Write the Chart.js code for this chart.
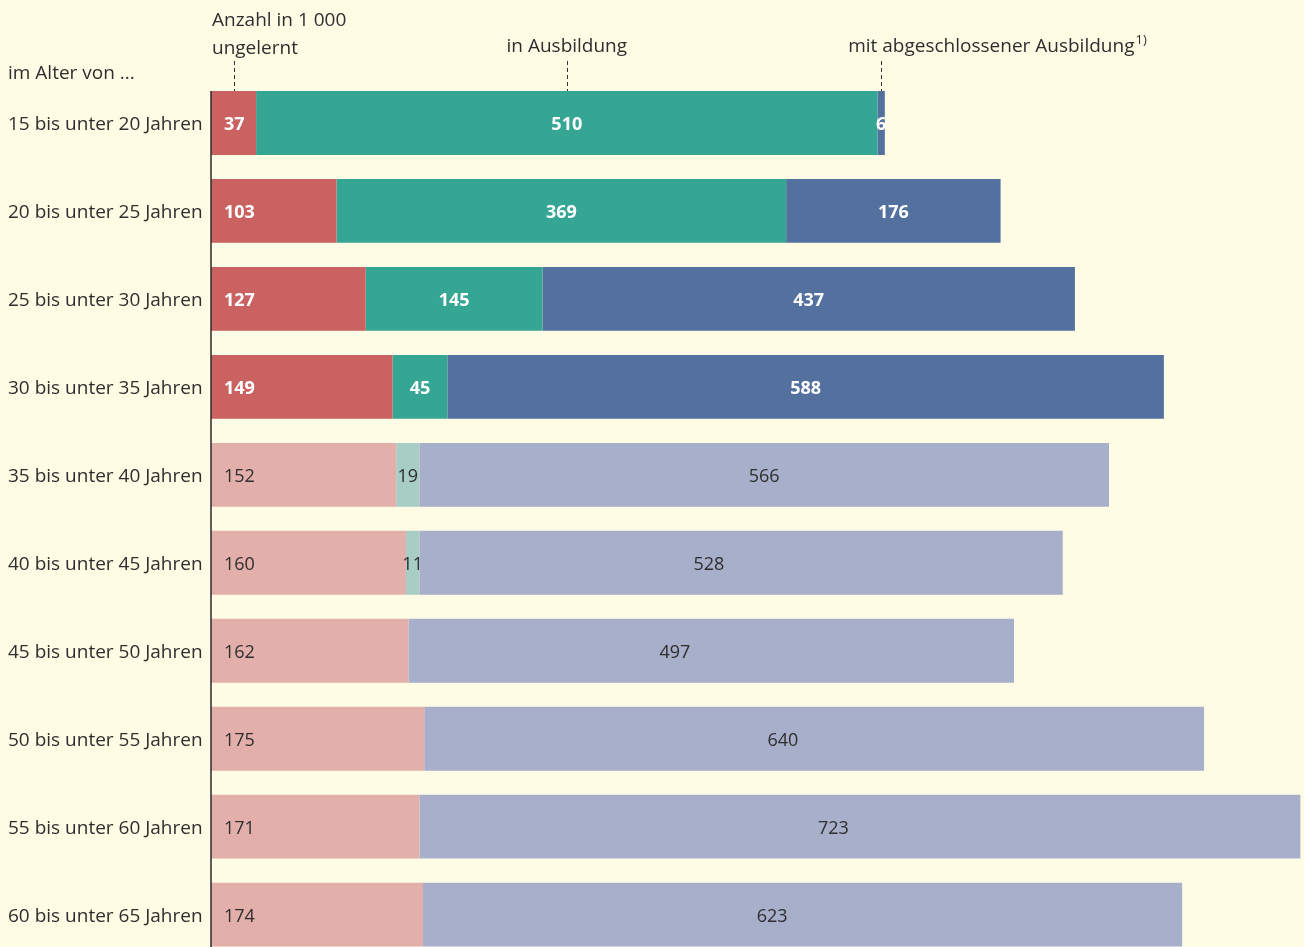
<!DOCTYPE html>
<html lang="de">
<head>
  <meta charset="UTF-8">
  <title>Erwerbstätige nach Ausbildung und Alter</title>
  <script src="https://cdn.jsdelivr.net/npm/chart.js@4.4.1/dist/chart.umd.min.js"></script>
  <style>
    html, body {
      margin: 0;
      padding: 0;
      overflow: hidden;
      background: #fffce6;
    }
    #wrap {
      width: 1304px;
      height: 970px;
    }
  </style>
</head>
<body>
  <div id="wrap">
    <canvas id="chart" width="1304" height="970"></canvas>
  </div>
  <script>
    // Daten (Anzahl in 1 000)
    const altersgruppen = [
      "15 bis unter 20 Jahren", "20 bis unter 25 Jahren", "25 bis unter 30 Jahren",
      "30 bis unter 35 Jahren", "35 bis unter 40 Jahren", "40 bis unter 45 Jahren",
      "45 bis unter 50 Jahren", "50 bis unter 55 Jahren", "55 bis unter 60 Jahren",
      "60 bis unter 65 Jahren"
    ];
    const ungelernt = [37, 103, 127, 149, 152, 160, 162, 175, 171, 174];
    const inAusbildung = [510, 369, 145, 45, 19, 11, null, null, null, null];
    const abgeschlossen = [6, 176, 437, 588, 566, 528, 497, 640, 723, 623];

    const FONT = "'Open Sans'";
    const TEXT = "#2e2e2e";
    const HERVOR = 4; // die ersten 4 Zeilen kräftig
    // Lage der Zahl im letzten Segment (Anteil der Segmentbreite), wie im Original gesetzt
    const lageLetzte = [0.5, 0.5, 0.5, 0.5, 0.5, 0.45, 0.44, 0.46, 0.47, 0.46];

    function farben(stark, hell) {
      return altersgruppen.map((_, i) => i < HERVOR ? stark : hell);
    }

    // Werte in die Balken schreiben, Achsenlinie und Kopfzeilen
    const beschriftung = {
      id: "beschriftung",
      afterDatasetsDraw(chart) {
        const ctx = chart.ctx;
        const area = chart.chartArea;
        ctx.save();
        ctx.textBaseline = "middle";
        chart.data.datasets.forEach((ds, d) => {
          const meta = chart.getDatasetMeta(d);
          meta.data.forEach((bar, i) => {
            const v = ds.data[i];
            if (v == null) return;
            const stark = i < HERVOR;
            ctx.font = (stark ? "bold " : "") + "18px " + FONT;
            ctx.fillStyle = stark ? "#ffffff" : TEXT;
            if (d === 0) {
              ctx.textAlign = "left";
              ctx.fillText(String(v), bar.base + 13, bar.y + 2);
            } else {
              ctx.textAlign = "center";
              const f = d === 2 ? lageLetzte[i] : 0.5;
              ctx.fillText(String(v), bar.base + (bar.x - bar.base) * f, bar.y + 2);
            }
          });
        });

        // Achsenlinie
        const erster = chart.getDatasetMeta(0).data[0];
        const oben = erster.y - erster.height / 2;
        ctx.strokeStyle = "#2a2a2a";
        ctx.lineWidth = 1.5;
        ctx.beginPath();
        ctx.moveTo(area.left, oben);
        ctx.lineTo(area.left, chart.height);
        ctx.stroke();

        // Kopfzeilen
        ctx.fillStyle = TEXT;
        ctx.font = "19px " + FONT;
        ctx.textAlign = "left";
        ctx.fillText("im Alter von ...", 8, 74);
        ctx.fillText("Anzahl in 1 000", area.left + 1, 21);
        ctx.fillText("ungelernt", area.left + 1, 49);

        const mitten = [0, 1, 2].map(d => {
          const b = chart.getDatasetMeta(d).data[0];
          return (b.base + b.x) / 2;
        });
        ctx.textAlign = "center";
        ctx.fillText("in Ausbildung", mitten[1], 47);
        ctx.textAlign = "left";
        const t = "mit abgeschlossener Ausbildung";
        const x3 = mitten[2] - 33;
        ctx.fillText(t, x3, 47);
        const w = ctx.measureText(t).width;
        ctx.font = "13px " + FONT;
        ctx.fillText("1)", x3 + w + 1, 40);

        // gestrichelte Hinweislinien
        ctx.setLineDash([4, 3]);
        ctx.lineWidth = 1;
        ctx.strokeStyle = "#333333";
        mitten.forEach(x => {
          ctx.beginPath();
          ctx.moveTo(Math.round(x) + 0.5, 61);
          ctx.lineTo(Math.round(x) + 0.5, oben);
          ctx.stroke();
        });
        ctx.restore();
      }
    };

    new Chart(document.getElementById("chart"), {
      type: "bar",
      data: {
        labels: altersgruppen,
        datasets: [
          { label: "ungelernt", data: ungelernt, backgroundColor: farben("#cb6262", "#e3afaa") },
          { label: "in Ausbildung", data: inAusbildung, backgroundColor: farben("#35a594", "#a7cdc5") },
          { label: "mit abgeschlossener Ausbildung", data: abgeschlossen, backgroundColor: farben("#53709f", "#a7afca") }
        ]
      },
      options: {
        indexAxis: "y",
        responsive: false,
        animation: false,
        layout: { padding: { top: 79, left: 8, right: 0, bottom: 7 } },
        datasets: {
          bar: { categoryPercentage: 1, barPercentage: 0.726, borderWidth: 0 }
        },
        scales: {
          x: {
            stacked: true,
            display: false,
            min: 0,
            max: 897
          },
          y: {
            stacked: true,
            grid: { display: false },
            border: { display: false },
            afterFit(scale) { scale.width = 203; },
            ticks: {
              crossAlign: "far",
              color: TEXT,
              font: { family: FONT, size: 19 },
              padding: 0,
              labelOffset: 2
            }
          }
        },
        plugins: {
          legend: { display: false },
          tooltip: { enabled: false }
        }
      },
      plugins: [beschriftung]
    });
  </script>
</body>
</html>
